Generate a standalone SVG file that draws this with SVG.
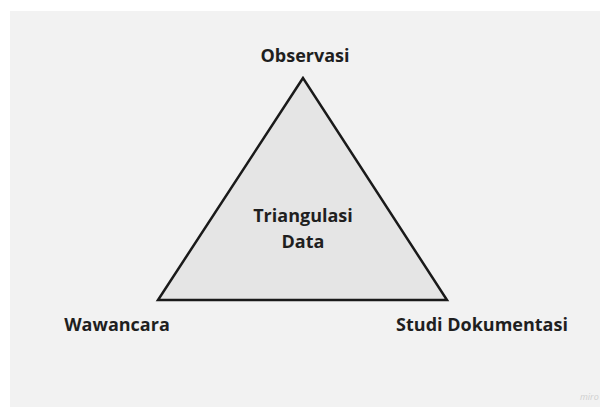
<svg xmlns="http://www.w3.org/2000/svg" width="600" height="407" viewBox="0 0 600 407">
  <style>
    .lbl { font-family: "Open Sans", "Liberation Sans", sans-serif; font-weight: 700; font-size: 18px; fill: #1f1f1f; text-anchor: middle; }
    .wm { font-family: "Open Sans", "Liberation Sans", sans-serif; font-style: italic; font-size: 9px; fill: #cfcfcf; }
  </style>
  <rect x="0" y="0" width="600" height="407" fill="#ffffff"/>
  <rect x="10" y="11" width="590" height="396" fill="#f2f2f2"/>
  <g id="triangulasi-data">
    <polygon points="303,78 158,300 447,300" fill="#e5e5e5" stroke="#1a1a1a" stroke-width="2.5" stroke-linejoin="miter"/>
    <text class="lbl" x="303" y="222">Triangulasi</text>
    <text class="lbl" x="303" y="248">Data</text>
  </g>
  <g id="observasi">
    <text class="lbl" x="305" y="62">Observasi</text>
  </g>
  <g id="wawancara">
    <text class="lbl" x="117" y="331">Wawancara</text>
  </g>
  <g id="studi-dokumentasi">
    <text class="lbl" x="482" y="331">Studi Dokumentasi</text>
  </g>
  <g id="connectors"></g>
  <text class="wm" x="580" y="400">miro</text>
</svg>
